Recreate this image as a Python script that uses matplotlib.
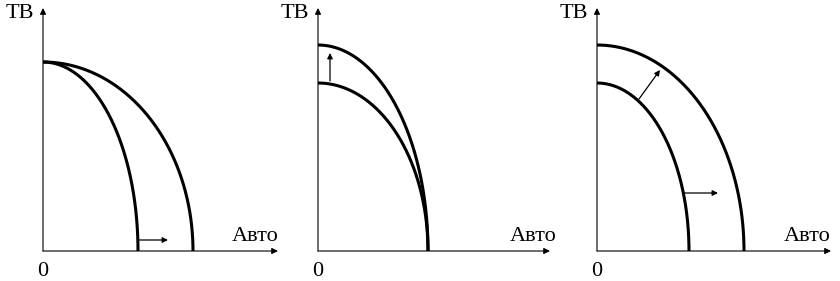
"""Production possibility frontiers: TV vs cars, three shift cases."""
import matplotlib
matplotlib.use("Agg")
import matplotlib.pyplot as plt
import numpy as np

plt.rcParams["font.family"] = ["Liberation Serif", "DejaVu Serif"]

# intercepts of each frontier (cars axis, TV axis), in pixel-like units
P1_AUTO = [95, 150]
P1_TV = [189, 189]
P2_AUTO = [110, 110]
P2_TV = [168, 206]
P3_AUTO = [92, 147]
P3_TV = [168, 206]

# shift arrows: (x0, y0, x1, y1)
P1_ARROWS = [(95, 11, 125, 11)]
P2_ARROWS = [(12, 170, 12, 198)]
P3_ARROWS = [(42, 152, 63, 181), (86, 58, 121, 58)]

Y_LABEL = "ТВ"
X_LABEL = "Авто"
ORIGIN_LABEL = "0"

W, H = 840, 281
# panel layout in pixels: origin x, axis end x, label right edge
PANELS = [
    (43, 278, 279, P1_AUTO, P1_TV, P1_ARROWS),
    (318, 550, 557, P2_AUTO, P2_TV, P2_ARROWS),
    (597, 831, 831, P3_AUTO, P3_TV, P3_ARROWS),
]
ORIGIN_Y, TOP_Y = 251, 8


def frontier(ax, a, b):
    t = np.linspace(0, np.pi / 2, 300)
    ax.plot(a * np.sin(t), b * np.cos(t), color="black", lw=2.2,
            solid_capstyle="butt", clip_on=False)


def arrow(ax, x0, y0, x1, y1, lw, scale):
    ax.annotate("", xy=(x1, y1), xytext=(x0, y0),
                arrowprops=dict(arrowstyle="-|>", lw=lw, color="black",
                                mutation_scale=scale, shrinkA=0, shrinkB=0),
                annotation_clip=False)


fig = plt.figure(figsize=(W / 100, H / 100), dpi=100)
for ox, xend, lab_right, autos, tvs, arrows in PANELS:
    width = xend - ox
    height = ORIGIN_Y - TOP_Y
    ax = fig.add_axes([ox / W, (H - ORIGIN_Y) / H, width / W, height / H])
    ax.set_xlim(0, width)
    ax.set_ylim(0, height)
    ax.axis("off")

    arrow(ax, 0, 0, width, 0, 0.8, 9)
    arrow(ax, 0, 0, 0, height, 0.8, 9)
    for a, b in zip(autos, tvs):
        frontier(ax, a, b)
    for x0, y0, x1, y1 in arrows:
        arrow(ax, x0, y0, x1, y1, 0.9, 8)

    ax.text(-9, height - 5, Y_LABEL, ha="right", va="center",
            fontsize=16, clip_on=False)
    ax.text(lab_right - ox, 10, X_LABEL, ha="right", va="baseline",
            fontsize=16, clip_on=False)
    ax.text(0, -21, ORIGIN_LABEL, ha="center", va="center",
            fontsize=16, clip_on=False)

fig.savefig("out.png", dpi=100, facecolor="white")
